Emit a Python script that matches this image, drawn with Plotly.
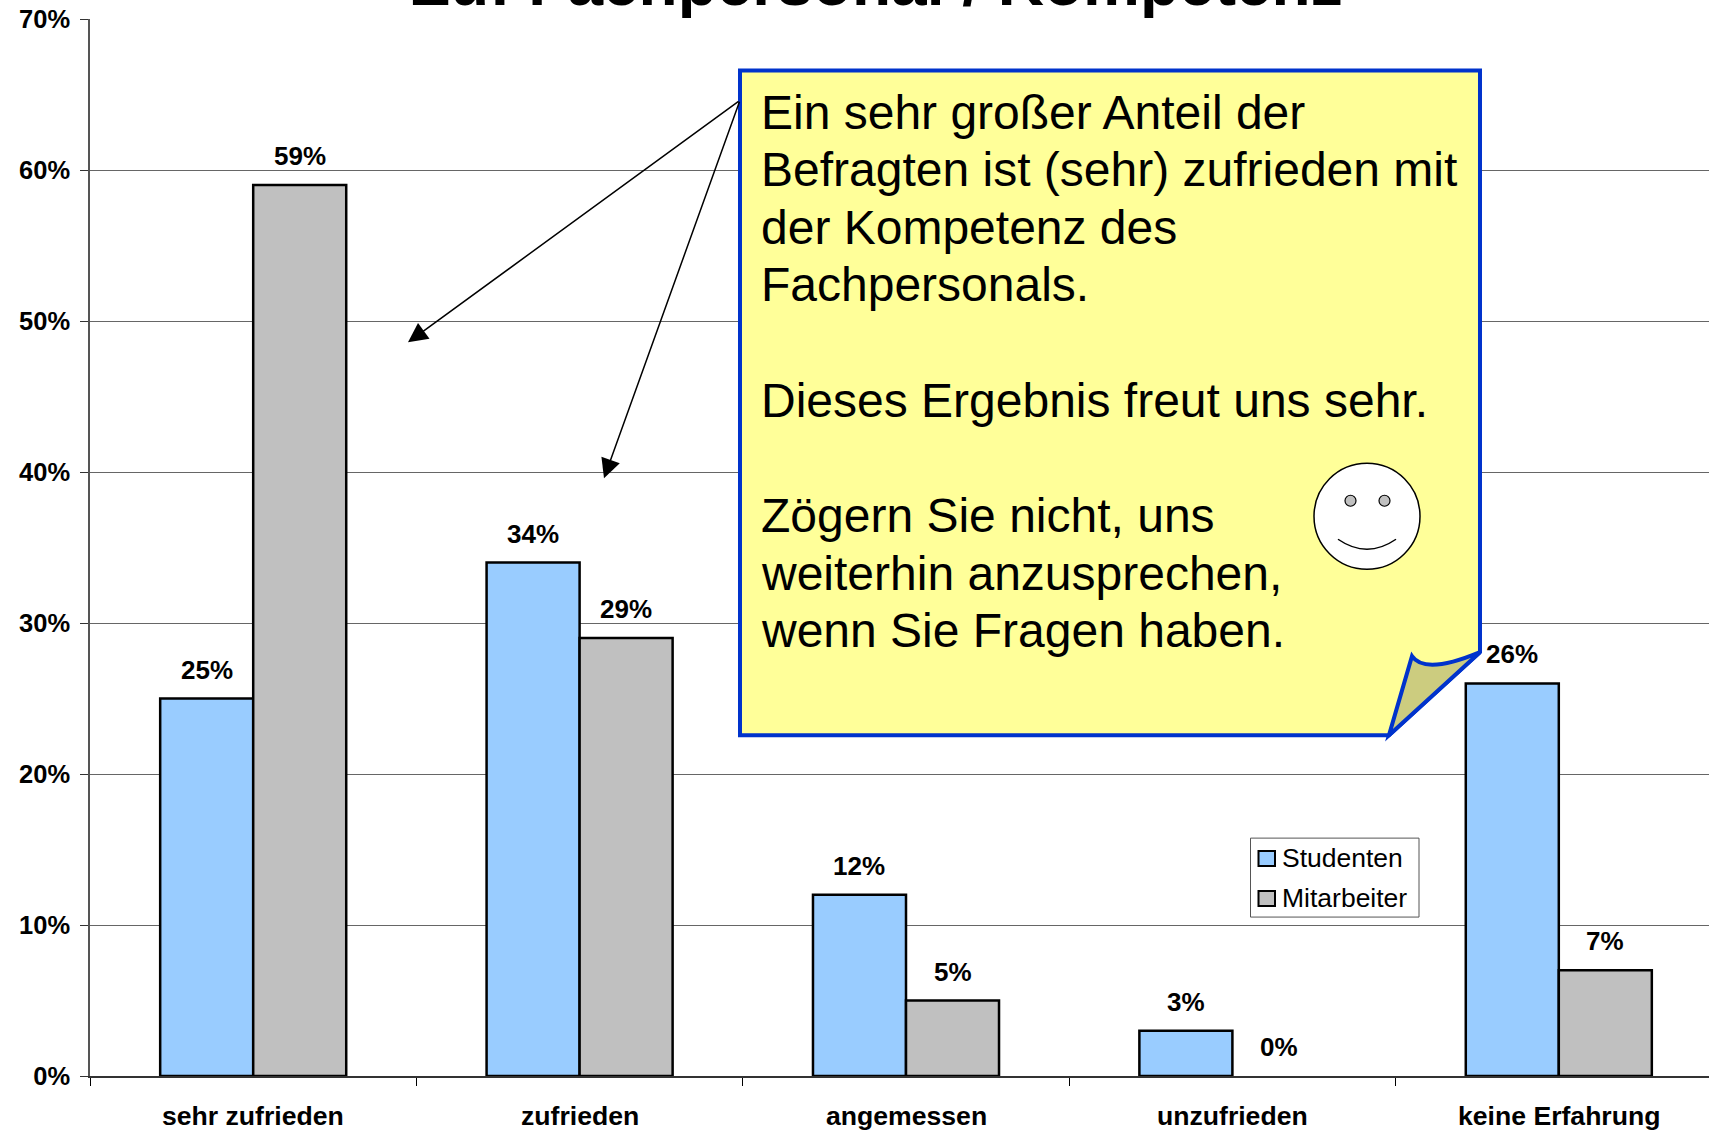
import plotly.graph_objects as go

categories = ["sehr zufrieden", "zufrieden", "angemessen", "unzufrieden", "keine Erfahrung"]
studenten = [25, 34, 12, 3, 26]
mitarbeiter = [59, 29, 5, 0, 7]
y_ticks = [0, 10, 20, 30, 40, 50, 60, 70]
note_lines = [
    ("Ein sehr großer Anteil der", 112),
    ("Befragten ist (sehr) zufrieden mit", 169),
    ("der Kompetenz des", 227),
    ("Fachpersonals.", 284),
    ("Dieses Ergebnis freut uns sehr.", 400),
    ("Zögern Sie nicht, uns", 515),
    ("weiterhin anzusprechen,", 573),
    ("wenn Sie Fragen haben.", 630),
]
W, H = 1709, 1131
L, R, T, B = 90, 1709, 18.5, 1076
FONT = "Liberation Sans"
BARGAP = 0.43

def px(x):
    return (x - L) / (R - L)

def py(y):
    return (B - y) / (B - T)

def pp(x, y):
    return f"{px(x):.5f} {py(y):.5f}"

fig = go.Figure()
for name, vals, col in [("Studenten", studenten, "#99CCFF"), ("Mitarbeiter", mitarbeiter, "#C0C0C0")]:
    fig.add_bar(
        name=name, x=list(range(5)), y=vals,
        marker=dict(color=col, line=dict(color="black", width=[2.5 if v else 0 for v in vals])),
        showlegend=False,
    )

shapes = []
body = (f"M {pp(740,70)} L {pp(1480,70)} L {pp(1480,652)} L {pp(1389,735)} L {pp(740,735)} Z")
shapes.append(dict(type="path", xref="paper", yref="paper", path=body, fillcolor="#FFFF99",
                   line=dict(color="#0033CC", width=4)))
fold = (f"M {pp(1389,735)} L {pp(1412,656)} Q {pp(1425,675)} {pp(1480,652)} L {pp(1389,735)} Z")
shapes.append(dict(type="path", xref="paper", yref="paper", path=fold, fillcolor="#CCCC7F",
                   line=dict(color="#0033CC", width=4)))

def circle(x0, y0, x1, y1, fill, w):
    return dict(type="circle", xref="paper", yref="paper", x0=px(x0), x1=px(x1), y0=py(y1), y1=py(y0),
                fillcolor=fill, line=dict(color="black", width=w))
shapes.append(circle(1314, 463, 1420, 569, "white", 1.5))
shapes.append(circle(1345, 495, 1356, 506, "#C0C0C0", 1.2))
shapes.append(circle(1379, 495, 1390, 506, "#C0C0C0", 1.2))
shapes.append(dict(type="path", xref="paper", yref="paper",
                   path=f"M {pp(1338,539)} Q {pp(1367,559)} {pp(1396,539)}", line=dict(color="black", width=1.5)))
shapes.append(dict(type="rect", xref="paper", yref="paper", x0=px(1250.5), x1=px(1419), y0=py(917), y1=py(838),
                   fillcolor="white", line=dict(color="#555555", width=1)))
shapes.append(dict(type="rect", xref="paper", yref="paper", x0=px(1258.5), x1=px(1275), y0=py(866), y1=py(851),
                   fillcolor="#99CCFF", line=dict(color="black", width=2)))
shapes.append(dict(type="rect", xref="paper", yref="paper", x0=px(1258.5), x1=px(1275), y0=py(906), y1=py(891),
                   fillcolor="#C0C0C0", line=dict(color="black", width=2)))

anns = []
for txt, y in note_lines:
    anns.append(dict(text=txt, xref="paper", yref="paper", x=px(759), y=py(y), xanchor="left", yanchor="middle",
                     showarrow=False, font=dict(family=FONT, size=48, color="black")))
for txt, y in [("Studenten", 858), ("Mitarbeiter", 898)]:
    anns.append(dict(text=txt, xref="paper", yref="paper", x=px(1280), y=py(y), xanchor="left", yanchor="middle",
                     showarrow=False, font=dict(family=FONT, size=26.5, color="black")))
anns.append(dict(text="Zu: Fachpersonal / Kompetenz", xref="paper", yref="paper", x=px(877), y=py(-18),
                 xanchor="center", yanchor="middle", showarrow=False,
                 font=dict(family=FONT, size=64, color="black", weight="bold")))
for hx, hy in [(408, 342), (604, 478)]:
    anns.append(dict(text="", xref="paper", yref="paper", x=px(hx), y=py(hy), axref="pixel", ayref="pixel",
                     ax=740 - hx, ay=100 - hy, showarrow=True, arrowhead=2, arrowsize=2.6, arrowwidth=1.5,
                     arrowcolor="black", standoff=0, startstandoff=0))
for i, c in enumerate(categories):
    anns.append(dict(text=c, x=i, xref="x", y=py(1116), yref="paper", xanchor="center", yanchor="middle",
                     showarrow=False, font=dict(family=FONT, size=26.6, color="black", weight="bold")))
off = (1 - BARGAP) / 4
for vals, sign in [(studenten, -1), (mitarbeiter, 1)]:
    for i, v in enumerate(vals):
        anns.append(dict(text=f"{v}%", x=i + sign * off, xref="x", y=v, yref="y", yshift=29,
                         xanchor="center", yanchor="middle", showarrow=False,
                         font=dict(family=FONT, size=26, color="black", weight="bold")))

fig.update_layout(
    width=W, height=H, margin=dict(l=L, r=W - R, t=T, b=H - B, autoexpand=False),
    barmode="group", bargap=BARGAP, bargroupgap=0, plot_bgcolor="white", paper_bgcolor="white",
    shapes=shapes, annotations=anns, showlegend=False,
    xaxis=dict(range=[-0.5, (R - L) / 326.4 - 0.5], tickvals=[-0.5, 0.5, 1.5, 2.5, 3.5], showticklabels=False,
               ticks="outside", ticklen=8, tickcolor="black", tickwidth=1, showgrid=False, zeroline=False,
               showline=True, linecolor="#333333", linewidth=1.5),
    yaxis=dict(range=[0, 70], tickvals=y_ticks, ticktext=[f"{v}%" for v in y_ticks], ticks="outside", ticklen=8,
               ticklabelstandoff=5, tickcolor="#333333", gridcolor="#666666", gridwidth=1, showline=True,
               linecolor="#555555", linewidth=1.5, zeroline=False,
               tickfont=dict(family=FONT, size=25.5, color="black", weight="bold")),
)
fig.write_html("out.html", config=dict(displayModeBar=False), post_script=(
    "document.body.style.margin='0';document.documentElement.style.overflow='hidden';"
))
